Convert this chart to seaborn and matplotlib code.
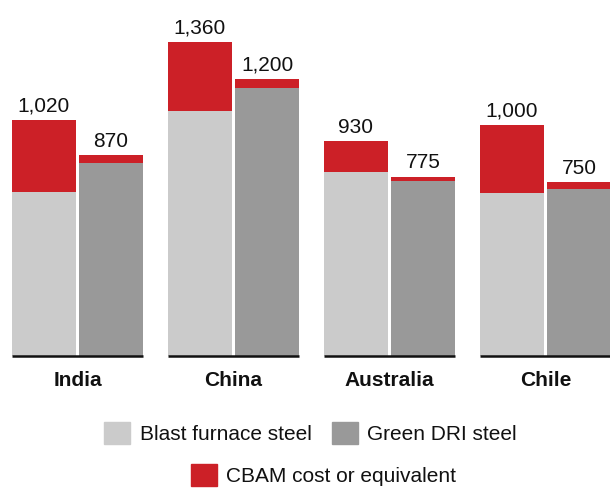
import numpy as np
import pandas as pd
import matplotlib
matplotlib.use("Agg")
import matplotlib.pyplot as plt
from matplotlib.patches import Patch
import seaborn as sns

# Steel cost per tonne by producing country
countries = ["India", "China", "Australia", "Chile"]
steel_types = ["Blast furnace steel", "Green DRI steel"]

blast_base = [710, 1060, 795, 705]
blast_cbam = [310, 300, 135, 295]
dri_base = [835, 1160, 755, 720]
dri_cbam = [35, 40, 20, 30]

cbam_label = "CBAM cost or equivalent"

LIGHT = "#cbcbcb"
DARK = "#999999"
RED = "#cc2027"
TEXT = "#111111"

rows = []
for i, c in enumerate(countries):
    rows.append({"country": c, "steel": steel_types[0],
                 "base": blast_base[i], "total": blast_base[i] + blast_cbam[i]})
    rows.append({"country": c, "steel": steel_types[1],
                 "base": dri_base[i], "total": dri_base[i] + dri_cbam[i]})
df = pd.DataFrame(rows)

sns.set_style("white")
plt.rcParams["font.family"] = ["Liberation Sans", "DejaVu Sans"]

W, H = 610, 490
fig = plt.figure(figsize=(W / 100, H / 100), dpi=100)
axis_bottom = 355.5
ax = fig.add_axes([0, (H - axis_bottom) / H, 1, axis_bottom / H])

bar_kw = dict(x="country", hue="steel", order=countries, hue_order=steel_types,
              width=0.86, gap=0.045, saturation=1, legend=False, ax=ax,
              linewidth=0, errorbar=None)

# Full bar (base + CBAM) in red, then base cost drawn over it
sns.barplot(data=df, y="total", palette=[RED, RED], **bar_kw)
total_bars = list(ax.patches)
sns.barplot(data=df, y="base", palette=[LIGHT, DARK], **bar_kw)

for p in total_bars:
    h = p.get_height()
    ax.annotate(f"{int(round(h)):,}", (p.get_x() + p.get_width() / 2, h),
                xytext=(0, 3), textcoords="offset points",
                ha="center", va="bottom", fontsize=15, color=TEXT)

# Baseline under each country group
half = 0.86 / 2 - 0.43 * 0.045 / 2
for i in range(len(countries)):
    ax.hlines(0, i - half, i + half, color="#111111", linewidth=1.8,
              clip_on=False, zorder=5)

ax.set_xlim(-77.5 / 156, -77.5 / 156 + W / 156)
ax.set_ylim(0, axis_bottom / 0.2308)
ax.set_xlabel("")
ax.set_ylabel("")
ax.set_yticks([])
ax.tick_params(axis="x", length=0, pad=11.5)
for lbl in ax.get_xticklabels():
    lbl.set_fontweight("bold")
    lbl.set_fontsize(15)
    lbl.set_color(TEXT)
sns.despine(ax=ax, left=True, bottom=True)

leg_kw = dict(frameon=False, fontsize=15, handlelength=1.25, handleheight=1.25,
              handletextpad=0.45, columnspacing=0.95, borderpad=0, labelcolor=TEXT)
leg1 = fig.legend(handles=[Patch(color=LIGHT, label=steel_types[0]),
                           Patch(color=DARK, label=steel_types[1])],
                  loc="center", bbox_to_anchor=(310.5 / W, 1 - 433 / H), ncol=2, **leg_kw)
fig.legend(handles=[Patch(color=RED, label=cbam_label)],
           loc="center", bbox_to_anchor=(323.5 / W, 1 - 475 / H), ncol=1, **leg_kw)

fig.savefig("out.png", dpi=100)
